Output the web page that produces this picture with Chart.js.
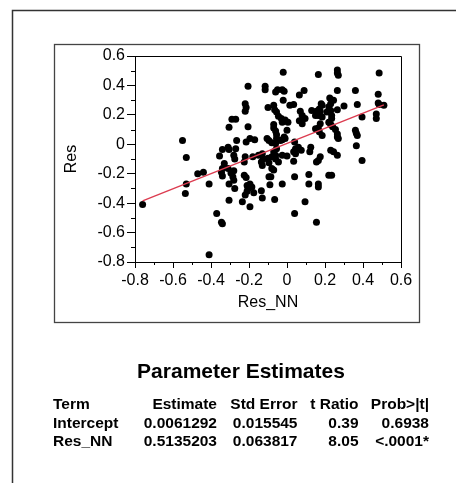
<!DOCTYPE html>
<html><head><meta charset="utf-8">
<script src="https://cdn.jsdelivr.net/npm/chart.js@4"></script>
<style>
html,body{margin:0;padding:0;background:#fff;}
body{width:456px;height:483px;position:relative;overflow:hidden;font-family:"Liberation Sans",Arial,sans-serif;}
#c{position:absolute;left:0;top:0;}
.t{position:absolute;white-space:nowrap;font-weight:bold;color:#000;line-height:1;}
</style></head><body>
<canvas id="c" width="456" height="483"></canvas>
<div id="title" class="t" style="left:0;width:482px;text-align:center;top:360px;font-size:21px;">Parameter Estimates</div>
<div id="tbl"></div>
<script>
// ---- data ----
const resNN = [
-0.76,-0.55,-0.53,-0.53,-0.535,-0.47,-0.44,-0.41,-0.41,-0.37,-0.345,-0.34,-0.355,-0.34,-0.31,-0.305,
-0.33,-0.34,-0.345,-0.34,-0.31,-0.295,-0.305,-0.305,-0.305,-0.29,-0.27,-0.28,-0.27,-0.265,-0.28,-0.285,
-0.28,-0.275,-0.275,-0.205,-0.22,-0.215,-0.22,-0.205,-0.215,-0.22,-0.225,-0.225,-0.215,-0.21,-0.205,-0.21,
-0.22,-0.195,-0.185,-0.235,-0.195,-0.18,-0.17,-0.195,-0.175,-0.135,-0.13,-0.135,-0.13,-0.13,-0.15,-0.115,
-0.115,-0.10,-0.105,-0.125,-0.095,-0.10,-0.095,-0.08,-0.08,-0.07,-0.095,-0.085,-0.09,-0.065,-0.07,-0.06,
-0.08,-0.06,-0.035,-0.07,-0.07,-0.06,-0.055,-0.055,-0.07,-0.065,-0.055,-0.06,-0.05,-0.025,-0.015,-0.02,
-0.02,-0.03,-0.025,-0.045,-0.01,0.005,0.0,-0.015,-0.025,-0.01,-0.055,-0.025,0.0,-0.045,-0.06,-0.025,
0.015,0.035,0.04,0.035,0.045,0.035,0.04,0.04,0.045,0.065,0.06,0.075,0.07,0.08,0.065,0.08,
0.095,0.09,0.095,0.115,0.115,0.125,0.12,0.13,0.155,0.175,0.185,0.165,0.185,0.15,0.165,0.175,
0.165,0.17,0.185,0.15,0.175,0.165,0.155,0.165,0.165,0.155,0.18,0.17,0.22,0.23,0.21,0.225,
0.23,0.245,0.265,0.235,0.22,0.23,0.235,0.24,0.255,0.265,0.27,0.265,0.23,0.245,0.265,0.22,
0.235,0.265,0.265,0.27,0.265,0.30,0.36,0.37,0.395,0.36,0.365,0.37,0.365,0.395,0.485,0.48,
0.48,0.51,0.485,0.47,0.47
];
const res = [
-0.41,0.025,-0.09,-0.27,-0.335,-0.20,-0.19,-0.27,-0.75,-0.47,-0.53,-0.54,-0.08,-0.035,-0.02,-0.035,
-0.13,-0.165,-0.19,-0.215,-0.165,-0.195,-0.27,-0.38,0.115,0.17,0.17,-0.075,-0.03,0.025,-0.18,-0.22,
-0.245,-0.30,-0.10,0.395,0.275,0.25,0.225,0.12,0.015,-0.085,-0.12,-0.21,-0.225,-0.28,-0.30,-0.32,
-0.345,-0.27,-0.29,-0.39,-0.425,-0.085,0.03,0.04,-0.33,-0.315,-0.365,-0.12,-0.145,-0.065,-0.075,0.395,
0.37,0.25,0.04,-0.10,0.025,-0.095,-0.125,-0.085,-0.165,-0.175,-0.22,-0.22,-0.275,-0.375,-0.05,-0.075,
0.01,0.005,0.025,0.135,0.11,0.09,0.065,0.04,0.265,0.235,0.22,0.355,0.37,0.37,0.36,0.49,
0.30,0.175,0.15,0.19,0.165,0.15,0.095,0.05,0.03,0.04,-0.03,-0.075,-0.08,-0.12,-0.10,-0.27,
0.265,0.27,0.015,-0.05,-0.065,-0.115,-0.22,-0.47,-0.03,0.335,-0.02,-0.04,0.225,0.195,0.16,0.14,
0.175,0.365,-0.39,-0.205,-0.27,-0.02,-0.05,0.23,0.225,0.225,0.265,0.195,0.185,0.195,0.475,0.14,
0.11,0.085,0.06,0.105,-0.085,-0.11,-0.12,-0.27,-0.29,-0.53,0.275,0.24,0.255,0.23,0.22,0.315,
0.275,0.30,0.235,0.195,0.15,0.135,0.175,0.12,0.10,0.05,0.04,0.07,-0.04,-0.05,-0.075,-0.21,
-0.21,0.505,0.485,0.47,0.365,0.26,0.365,0.27,0.185,0.095,0.075,0.06,-0.01,-0.11,0.485,0.34,
0.28,0.265,0.27,0.205,0.175
];
const axisTickValues = [-0.8,-0.6,-0.4,-0.2,0,0.2,0.4,0.6];
const axisTickLabels = ['-0.8','-0.6','-0.4','-0.2','0','0.2','0.4','0.6'];
const xTitle = 'Res_NN';
const yTitle = 'Res';
const tableHeader = ['Term','Estimate','Std Error','t Ratio','Prob>|t|'];
const terms = ['Intercept','Res_NN'];
const estimates = ['0.0061292','0.5135203'];
const stdErrors = ['0.015545','0.063817'];
const tRatios = ['0.39','8.05'];
const probs = ['0.6938','<.0001*'];

// ---- fit line from the estimates ----
const b0 = parseFloat(estimates[0]), b1 = parseFloat(estimates[1]);
const xMin = Math.min(...resNN), xMax = Math.max(...resNN);
const fitLine = [{x:xMin, y:b0 + b1*xMin}, {x:xMax, y:b0 + b1*xMax}];
const points = resNN.map((v,i)=>({x:v, y:res[i]}));

const FONT = '"Liberation Sans", Arial, sans-serif';

const framePlugin = {
  id:'frames',
  beforeDraw(chart){
    const ctx = chart.ctx;
    ctx.save();
    ctx.fillStyle='#fff';
    ctx.fillRect(0,0,chart.width,chart.height);
    ctx.strokeStyle='#333';
    ctx.lineWidth=1.5;
    ctx.beginPath();
    ctx.moveTo(12.5,483); ctx.lineTo(12.5,10.5); ctx.lineTo(456,10.5);
    ctx.stroke();
    ctx.strokeStyle='#444';
    ctx.lineWidth=1.3;
    ctx.strokeRect(54.5,44.5,365,278);
    ctx.restore();
  },
  afterDraw(chart){
    const ctx = chart.ctx, a = chart.chartArea;
    const xs = chart.scales.x, ys = chart.scales.y;
    ctx.save();
    ctx.strokeStyle='#000';
    ctx.lineWidth=1;
    ctx.beginPath();
    ctx.moveTo(a.left, a.top+0.5); ctx.lineTo(a.right+0.5, a.top+0.5); ctx.lineTo(a.right+0.5, a.bottom);
    ctx.stroke();
    // minor ticks between the major ones
    ctx.beginPath();
    for (let i=0;i<axisTickValues.length-1;i++){
      const m = (axisTickValues[i]+axisTickValues[i+1])/2;
      const px = Math.round(xs.getPixelForValue(m))+0.5;
      ctx.moveTo(px, a.bottom); ctx.lineTo(px, a.bottom+3);
      const py = Math.round(ys.getPixelForValue(m))+0.5;
      ctx.moveTo(a.left, py); ctx.lineTo(a.left-4, py);
    }
    ctx.stroke();
    ctx.restore();
  }
};

new Chart(document.getElementById('c'), {
  data:{
    datasets:[
      {type:'line', data:fitLine, borderColor:'#dc3c50', borderWidth:1.4, pointRadius:0, fill:false, order:0},
      {type:'scatter', data:points, backgroundColor:'#000', borderWidth:0, pointRadius:3.5, pointHoverRadius:3.5, order:1}
    ]
  },
  options:{
    responsive:false, animation:false, devicePixelRatio:1,
    events:[],
    layout:{padding:{left:58, top:56, right:55, bottom:167}},
    plugins:{legend:{display:false}, tooltip:{enabled:false}},
    scales:{
      x:{type:'linear', position:'bottom', min:-0.8, max:0.6,
         afterBuildTicks:s=>{s.ticks = axisTickValues.map(v=>({value:v}));},
         afterFit:s=>{s.height=54;},
         ticks:{callback:(v,i)=>axisTickLabels[i], color:'#000', font:{family:FONT, size:16}, padding:3, maxRotation:0, autoSkip:false},
         grid:{drawOnChartArea:false, drawTicks:true, tickLength:6, color:'#000'},
         border:{display:true, color:'#000', width:1},
         title:{display:true, text:xTitle, color:'#000', font:{family:FONT, size:16}, padding:{top:0,bottom:4}}
      },
      y:{type:'linear', position:'left', min:-0.8, max:0.6,
         afterBuildTicks:s=>{s.ticks = axisTickValues.map(v=>({value:v}));},
         afterFit:s=>{s.width=77;},
         ticks:{callback:(v,i)=>axisTickLabels[i], color:'#000', font:{family:FONT, size:16}, padding:2, autoSkip:false},
         grid:{drawOnChartArea:false, drawTicks:true, tickLength:8, color:'#000'},
         border:{display:true, color:'#000', width:1},
         title:{display:true, text:yTitle, color:'#000', font:{family:FONT, size:16}, padding:{top:4,bottom:0}}
      }
    }
  },
  plugins:[framePlugin]
});

// ---- parameter table ----
const tbl = document.getElementById('tbl');
const fs = 15.5;
const rowBase = [409.5, 428, 446.3];
const colRight = [null, 217, 297.5, 358.5, 429];
const termLeft = 53;
const rows = [tableHeader].concat(terms.map((t,i)=>[t, estimates[i], stdErrors[i], tRatios[i], probs[i]]));
rows.forEach((r,ri)=>{
  r.forEach((txt,ci)=>{
    const d = document.createElement('div');
    d.className='t';
    d.textContent = txt;
    d.style.fontSize = fs+'px';
    d.style.top = (rowBase[ri] - 0.8465*fs)+'px';
    if (ci===0) { d.style.left = termLeft+'px'; }
    else { d.style.right = (456 - colRight[ci])+'px'; d.style.textAlign='right'; }
    tbl.appendChild(d);
  });
});
</script>
</body></html>
